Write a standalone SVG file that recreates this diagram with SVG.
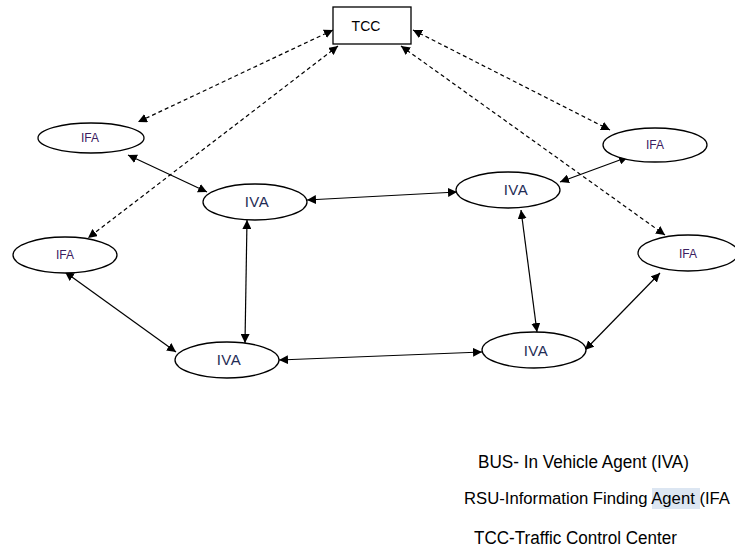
<svg xmlns="http://www.w3.org/2000/svg" width="735" height="548" viewBox="0 0 735 548">
<style>
.n ellipse{fill:#fff;stroke:#000;stroke-width:1.3}
.n rect{fill:#fff;stroke:#000;stroke-width:1.3}
.ifa{font-family:"Liberation Sans",Arial,sans-serif;font-size:12px;fill:#3b2060;text-anchor:middle}
.iva{font-family:"Liberation Sans",Arial,sans-serif;font-size:15px;fill:#1f2c55;text-anchor:middle;letter-spacing:0.5px}
.tcc{font-family:"Liberation Sans",Arial,sans-serif;font-size:14px;fill:#000;text-anchor:middle}
.c line{stroke:#000;stroke-width:1.2;marker-start:url(#a);marker-end:url(#a)}
.c .d{stroke-dasharray:4,3}
.lg{font-family:"Liberation Sans",Arial,sans-serif;font-size:18px;fill:#000}
.lg2{font-family:"Liberation Sans",Arial,sans-serif;font-size:16px;fill:#000}
</style>
<defs>
<marker id="a" viewBox="0 0 10 10" refX="10" refY="5" markerWidth="9" markerHeight="9" markerUnits="userSpaceOnUse" orient="auto-start-reverse">
<path d="M0,0 L10,5 L0,10 z" fill="#000"/>
</marker>
</defs>
<g class="c" id="connectors">
<line class="d" x1="333" y1="30" x2="138" y2="122"/>
<line class="d" x1="338" y1="46" x2="88" y2="238"/>
<line class="d" x1="413" y1="30" x2="610" y2="130"/>
<line class="d" x1="401" y1="46" x2="665" y2="235"/>
<line x1="128" y1="155" x2="207" y2="192"/>
<line x1="307" y1="200" x2="457" y2="192"/>
<line x1="560" y1="182" x2="628" y2="157"/>
<line x1="247" y1="220" x2="245" y2="343"/>
<line x1="521" y1="210" x2="537" y2="332"/>
<line x1="65" y1="272" x2="176" y2="352"/>
<line x1="279" y1="360" x2="482" y2="352"/>
<line x1="585" y1="350" x2="660" y2="273"/>
</g>
<g class="n" id="tcc"><rect x="333" y="7" width="78" height="37"/><text class="tcc" x="366" y="31">TCC</text></g>
<g class="n" id="ifa1"><ellipse cx="91" cy="138" rx="53" ry="15"/><text class="ifa" x="90" y="142">IFA</text></g>
<g class="n" id="ifa2"><ellipse cx="655" cy="145" rx="52" ry="17"/><text class="ifa" x="655" y="149">IFA</text></g>
<g class="n" id="ifa3"><ellipse cx="65" cy="255" rx="52" ry="18"/><text class="ifa" x="65" y="259">IFA</text></g>
<g class="n" id="ifa4"><ellipse cx="688" cy="253" rx="50" ry="18"/><text class="ifa" x="688" y="258">IFA</text></g>
<g class="n" id="iva1"><ellipse cx="255" cy="202" rx="52" ry="18"/><text class="iva" x="257" y="207">IVA</text></g>
<g class="n" id="iva2"><ellipse cx="508" cy="190" rx="52" ry="18"/><text class="iva" x="516" y="195">IVA</text></g>
<g class="n" id="iva3"><ellipse cx="227" cy="360" rx="52" ry="18"/><text class="iva" x="229" y="365">IVA</text></g>
<g class="n" id="iva4"><ellipse cx="534" cy="350" rx="52" ry="18"/><text class="iva" x="536" y="356">IVA</text></g>
<g id="legend">
<rect x="652" y="488" width="48" height="21" fill="#dce6f2"/>
<text class="lg2" x="464" y="504" textLength="266" lengthAdjust="spacingAndGlyphs">RSU-Information Finding Agent (IFA</text>
<text class="lg" x="478" y="468" textLength="211" lengthAdjust="spacingAndGlyphs">BUS- In Vehicle Agent (IVA)</text>
<text class="lg" x="474" y="544" textLength="203" lengthAdjust="spacingAndGlyphs">TCC-Traffic Control Center</text>
</g>
</svg>
